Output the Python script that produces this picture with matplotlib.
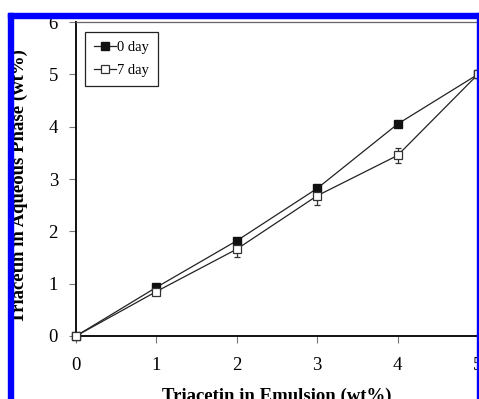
import matplotlib.pyplot as plt
from matplotlib.patches import Rectangle

# triacetin partitioning into the aqueous phase
emulsion_wt = [0, 1, 2, 3, 4, 5]
aqueous_day0 = [0.0, 0.93, 1.82, 2.82, 4.05, 5.0]
aqueous_day7 = [0.0, 0.85, 1.66, 2.68, 3.45, 5.0]
err_day7 = [0.0, 0.0, 0.15, 0.18, 0.15, 0.0]
series_labels = ['0 day', '7 day']
xticks = [0, 1, 2, 3, 4, 5]
yticks = [0, 1, 2, 3, 4, 5, 6]

plt.rcParams['font.family'] = ['Liberation Serif', 'DejaVu Serif']

W, H = 479, 399
fig = plt.figure(figsize=(W / 100, H / 100), dpi=100)
ax = fig.add_axes([76 / W, (H - 336) / H, 410 / W, 314 / H])

ax.plot(emulsion_wt, aqueous_day0, color='#222222', lw=0.9, marker='s', ms=6.3,
        mfc='#111111', mec='#111111', label=series_labels[0], zorder=3, clip_on=False)
ax.errorbar(emulsion_wt, aqueous_day7, yerr=err_day7, fmt='none', ecolor='#333333',
            elinewidth=0.9, capsize=2.5, capthick=0.9, zorder=2)
ax.plot(emulsion_wt, aqueous_day7, color='#222222', lw=0.9, marker='s', ms=6.3,
        mfc='white', mec='#333333', mew=0.9, label=series_labels[1], zorder=4, clip_on=False)

ax.set_xlim(0, 5.1)
ax.set_ylim(0, 6)
ax.set_xticks(xticks)
ax.set_yticks(yticks)
ax.tick_params(direction='out', length=5, width=0.8, color='#777777', labelsize=13.5, pad=10)
ax.tick_params(axis='y', pad=8)

for side in ['left', 'bottom']:
    ax.spines[side].set_linewidth(1.4)
    ax.spines[side].set_color('#111111')
ax.spines['top'].set_linewidth(0.9)
ax.spines['top'].set_color('#666666')
ax.spines['right'].set_visible(False)

leg = ax.legend(loc='upper left', bbox_to_anchor=(0.022, 0.968), borderaxespad=0,
                fontsize=10.5, handlelength=1.5, handletextpad=0.1, labelspacing=0.7,
                fancybox=False, edgecolor='#222222', framealpha=1, borderpad=0.6)
leg.get_frame().set_linewidth(0.9)

fig.text(19 / W, 1 - 186 / H, 'Triacetin in Aqueous Phase (wt%)', rotation=90,
         ha='center', va='center', fontsize=13.5, fontweight='bold')
fig.text(277 / W, 1 - 388 / H, 'Triacetin in Emulsion (wt%)', ha='center', va='top',
         fontsize=13.5, fontweight='bold')

# blue frame around the panel
blue = '#0000ff'
fig.add_artist(Rectangle((8 / W, 0), 5 / W, 1 - 13 / H, transform=fig.transFigure,
                         color=blue, zorder=10))
fig.add_artist(Rectangle((8 / W, 1 - 18 / H), 1, 5 / H, transform=fig.transFigure,
                         color=blue, zorder=10))
fig.add_artist(Rectangle((477 / W, 0), 3 / W, 1 - 13 / H, transform=fig.transFigure,
                         color=blue, zorder=10))

fig.savefig('out.png', dpi=100)
